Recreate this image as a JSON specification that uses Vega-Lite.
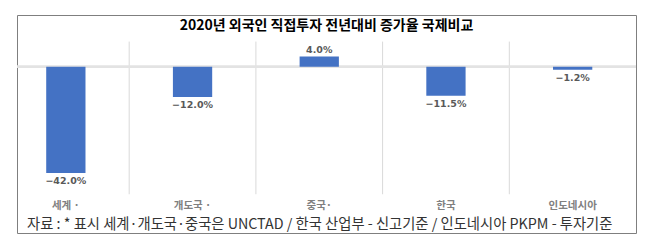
{
  "$schema": "https://vega.github.io/schema/vega-lite/v6.json",
  "width": 619,
  "height": 218,
  "autosize": {"type": "none"},
  "padding": {"left": 17, "top": 15, "right": 18, "bottom": 17},
  "background": "white",
  "config": {"view": {"stroke": "#7F7F7F", "strokeWidth": 1}},
  "view": {"stroke": "#7F7F7F", "strokeWidth": 1},
  "title": {
    "text": "2020년 외국인 직접투자 전년대비 증가율 국제비교",
    "anchor": "middle",
    "frame": "group",
    "baseline": "middle",
    "offset": -25,
    "font": "Noto Sans CJK KR",
    "fontSize": 14,
    "fontWeight": "bold",
    "color": "#000000"
  },
  "data": {
    "values": [
      {"c": "세계 ·", "v": -0.42},
      {"c": "개도국 ·", "v": -0.12},
      {"c": "중국·", "v": 0.04},
      {"c": "한국", "v": -0.115},
      {"c": "인도네시아", "v": -0.012}
    ]
  },
  "encoding": {
    "x": {
      "field": "c",
      "type": "nominal",
      "sort": null,
      "scale": {"type": "band", "domain": ["세계 ·", "개도국 ·", "중국·", "한국", "인도네시아"], "range": [-14.5, 619], "paddingInner": 0, "paddingOuter": 0},
      "axis": {
        "orient": "bottom",
        "offset": -33,
        "domain": false,
        "ticks": false,
        "grid": false,
        "labelAngle": 0,
        "labelPadding": 0,
        "labelFont": "Noto Sans CJK KR",
        "labelFontSize": 10.5,
        "labelFontWeight": "bold",
        "labelColor": "#808080",
        "title": "자료 : * 표시 세계·개도국·중국은 UNCTAD / 한국 산업부 - 신고기준 / 인도네시아 PKPM - 투자기준",
        "titleFont": "Noto Sans CJK KR",
        "titleFontSize": 14.3,
        "titleFontWeight": "normal",
        "titleColor": "#333333",
        "titlePadding": 7
      }
    }
  },
  "layer": [
    {
      "transform": [{"filter": "datum.c != '세계 ·'"}],
      "mark": {"type": "rule", "color": "#D9D9D9", "strokeWidth": 1},
      "encoding": {
        "x": {"field": "c", "type": "nominal", "sort": null, "bandPosition": 0},
        "y": {"datum": 0.099, "type": "quantitative", "scale": {"domain": [-0.657, 0.204], "nice": false, "zero": false}, "axis": null},
        "y2": {"datum": -0.504}
      }
    },
    {
      "mark": {"type": "rule", "color": "#E3E3E3", "strokeWidth": 2},
      "encoding": {
        "x": null,
        "y": {"datum": 0, "type": "quantitative"}
      }
    },
    {
      "mark": {"type": "bar", "color": "#4472C4", "width": {"band": 0.31}},
      "encoding": {
        "y": {"field": "v", "type": "quantitative"}
      }
    },
    {
      "transform": [{"filter": "datum.v < 0"}],
      "mark": {"type": "text", "baseline": "middle", "dy": 8, "font": "DejaVu Sans", "fontSize": 9.5, "fontWeight": "bold", "color": "#595959"},
      "encoding": {
        "y": {"field": "v", "type": "quantitative"},
        "text": {"field": "v", "type": "quantitative", "format": ".1%"}
      }
    },
    {
      "transform": [{"filter": "datum.v >= 0"}],
      "mark": {"type": "text", "baseline": "middle", "dy": -7, "font": "DejaVu Sans", "fontSize": 9.5, "fontWeight": "bold", "color": "#595959"},
      "encoding": {
        "y": {"field": "v", "type": "quantitative"},
        "text": {"field": "v", "type": "quantitative", "format": ".1%"}
      }
    }
  ]
}
